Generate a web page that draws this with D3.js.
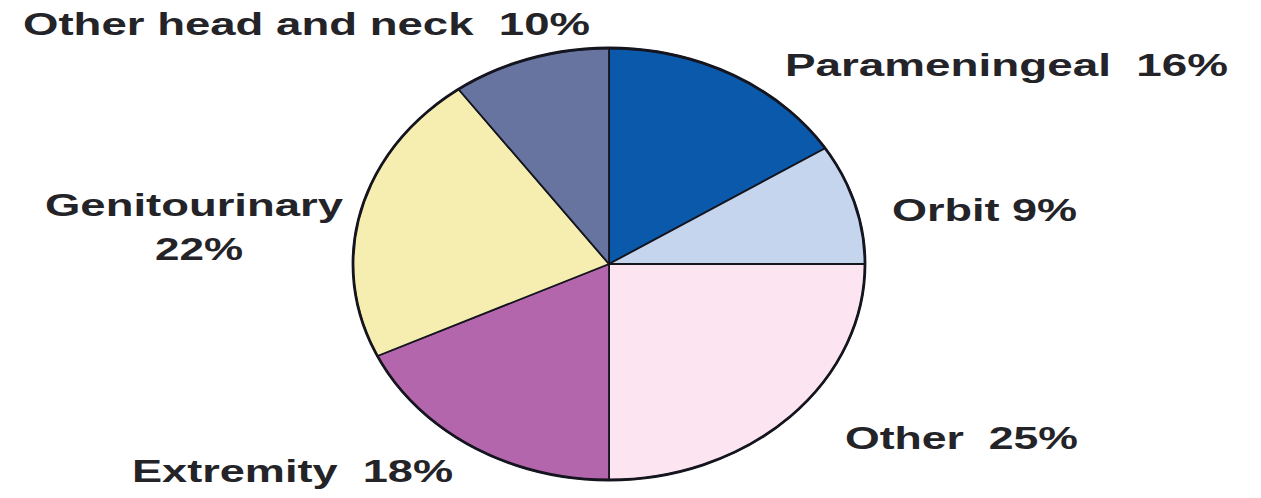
<!DOCTYPE html>
<html>
<head>
<meta charset="utf-8">
<script src="https://cdn.jsdelivr.net/npm/d3@7"></script>
<style>
  html, body { margin: 0; padding: 0; background: #ffffff; }
  svg { display: block; }
  .lbl { font-family: "Liberation Sans", Arial, sans-serif; font-weight: bold; font-size: 32px; fill: #242428; white-space: pre; }
</style>
</head>
<body>
<svg id="chart" width="1261" height="498"></svg>
<script>
// Primary site distribution (percent), clockwise from 12 o'clock
const sites = ["Parameningeal", "Orbit", "Other", "Extremity", "Genitourinary", "Other head and neck"];
const shares = [16, 9, 25, 18, 22, 10];
const sliceColors = ["#0a59ab", "#c6d5ee", "#fde4f1", "#b466ad", "#f6eeb1", "#66749f"];

// Label placement: anchor x, baseline y, rendered width, and whether the value goes on its own line
const labelLayout = [
  { x: 785, y: 76,  w: 443, split: false },
  { x: 892, y: 221, w: 185, split: false },
  { x: 845, y: 449, w: 233, split: false },
  { x: 132, y: 482, w: 321, split: false },
  { x: 45,  y: 216, w: 298, split: true, x2: 155, y2: 260, w2: 88 },
  { x: 23,  y: 35,  w: 567, split: false }
];

const svg = d3.select("#chart");
const cx = 609, cy = 264, rx = 256, ry = 216;
const R = 100;

const pie = d3.pie().sort(null).value(d => d.value);
const arc = d3.arc().innerRadius(0).outerRadius(R);
const data = sites.map((s, i) => ({ name: s, value: shares[i], color: sliceColors[i] }));

// Pie is drawn on a unit radius and stretched into an ellipse
const g = svg.append("g")
  .attr("transform", `translate(${cx},${cy}) scale(${rx / R},${ry / R})`);

g.selectAll("path.slice")
  .data(pie(data))
  .join("path")
  .attr("class", "slice")
  .attr("d", arc)
  .attr("fill", d => d.data.color)
  .attr("stroke", "#15151f")
  .attr("stroke-width", 1.8)
  .attr("stroke-linejoin", "round")
  .attr("vector-effect", "non-scaling-stroke");

g.append("circle")
  .attr("r", R)
  .attr("fill", "none")
  .attr("stroke", "#15151f")
  .attr("stroke-width", 2.8)
  .attr("vector-effect", "non-scaling-stroke");

// Labels
data.forEach((d, i) => {
  const L = labelLayout[i];
  if (L.split) {
    svg.append("text").attr("class", "lbl")
      .attr("x", L.x).attr("y", L.y)
      .attr("textLength", L.w).attr("lengthAdjust", "spacingAndGlyphs")
      .text(d.name);
    svg.append("text").attr("class", "lbl")
      .attr("x", L.x2).attr("y", L.y2)
      .attr("textLength", L.w2).attr("lengthAdjust", "spacingAndGlyphs")
      .text(`${d.value}%`);
  } else {
    const sep = d.name === "Orbit" ? " " : "  ";
    svg.append("text").attr("class", "lbl")
      .attr("x", L.x).attr("y", L.y)
      .attr("textLength", L.w).attr("lengthAdjust", "spacingAndGlyphs")
      .text(`${d.name}${sep}${d.value}%`);
  }
});
</script>
</body>
</html>
